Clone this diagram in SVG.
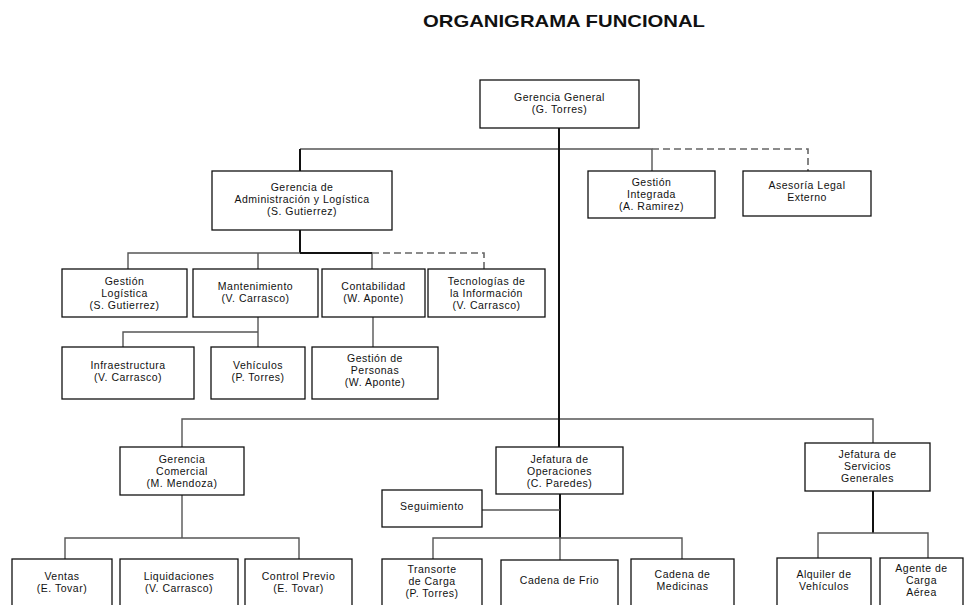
<svg xmlns="http://www.w3.org/2000/svg" width="966" height="605" viewBox="0 0 966 605">
<style>
.title{font-family:"Liberation Sans",Arial,sans-serif;font-weight:bold;font-size:17px;fill:#111}
.box{fill:#fff;stroke:#111;stroke-width:1.3}
.t{font-family:"Liberation Sans",Arial,sans-serif;font-size:10.5px;fill:#111;text-anchor:middle;letter-spacing:0.5px}
.c{fill:none;stroke:#555;stroke-width:1.4}
.trunk{fill:none;stroke:#111;stroke-width:2}
.d{fill:none;stroke:#666;stroke-width:1.6;stroke-dasharray:7,4}
</style>
<rect width="966" height="605" fill="#fff"/>
<text class="title" x="423" y="27" textLength="282" lengthAdjust="spacingAndGlyphs">ORGANIGRAMA FUNCIONAL</text>
<g id="connectors">
<path class="c" d="M300 149H652V171"/>
<path class="d" d="M652 149H808V171"/>
<path class="trunk" d="M300 149V171"/>
<path class="trunk" d="M300 230V253"/>
<path class="c" d="M128 269V253H372V269M258 253V269"/>
<path class="trunk" d="M300 253H372"/>
<path class="d" d="M372 253H484V269"/>
<path class="c" d="M258 317V347M258 332H123V347"/>
<path class="c" d="M373 317V347"/>
<path class="c" d="M182 447V419H873V443"/>
<path class="trunk" d="M559 128V447"/>
<path class="c" d="M182 495V538M65 559V538H299V559"/>
<path class="trunk" d="M560 494V538"/>
<path class="c" d="M482 510H560M560 538V560M433 559V538H682V559"/>
<path class="trunk" d="M873 491V533"/>
<path class="c" d="M818 558V533H928V558"/>
</g>
<g id="gg"><rect class="box" x="480" y="80" width="159" height="48"/><text class="t" x="559.5" y="101">Gerencia General</text><text class="t" x="559.5" y="113">(G. Torres)</text></g>
<g id="gal"><rect class="box" x="212" y="171" width="180" height="59"/><text class="t" x="302" y="191">Gerencia de</text><text class="t" x="302" y="203">Administración y Logística</text><text class="t" x="302" y="215">(S. Gutierrez)</text></g>
<g id="gi"><rect class="box" x="588" y="171" width="127" height="47"/><text class="t" x="651.5" y="186">Gestión</text><text class="t" x="651.5" y="198">Integrada</text><text class="t" x="651.5" y="210">(A. Ramirez)</text></g>
<g id="ale"><rect class="box" x="743" y="171" width="128" height="45"/><text class="t" x="807" y="189">Asesoría Legal</text><text class="t" x="807" y="201">Externo</text></g>
<g id="gl"><rect class="box" x="62" y="269" width="125" height="48"/><text class="t" x="124.5" y="285">Gestión</text><text class="t" x="124.5" y="297">Logística</text><text class="t" x="124.5" y="309">(S. Gutierrez)</text></g>
<g id="mant"><rect class="box" x="193" y="269" width="125" height="48"/><text class="t" x="255.5" y="290">Mantenimiento</text><text class="t" x="255.5" y="302">(V. Carrasco)</text></g>
<g id="cont"><rect class="box" x="322" y="269" width="103" height="48"/><text class="t" x="373.5" y="290">Contabilidad</text><text class="t" x="373.5" y="302">(W. Aponte)</text></g>
<g id="ti"><rect class="box" x="428" y="269" width="117" height="48"/><text class="t" x="486.5" y="285">Tecnologías de</text><text class="t" x="486.5" y="297">la Información</text><text class="t" x="486.5" y="309">(V. Carrasco)</text></g>
<g id="infra"><rect class="box" x="62" y="347" width="132" height="52"/><text class="t" x="128" y="369">Infraestructura</text><text class="t" x="128" y="381">(V. Carrasco)</text></g>
<g id="veh"><rect class="box" x="211" y="347" width="94" height="52"/><text class="t" x="258" y="369">Vehículos</text><text class="t" x="258" y="381">(P. Torres)</text></g>
<g id="gp"><rect class="box" x="312" y="347" width="126" height="52"/><text class="t" x="375" y="362">Gestión de</text><text class="t" x="375" y="374">Personas</text><text class="t" x="375" y="386">(W. Aponte)</text></g>
<g id="gc"><rect class="box" x="120" y="447" width="124" height="48"/><text class="t" x="182" y="463">Gerencia</text><text class="t" x="182" y="475">Comercial</text><text class="t" x="182" y="487">(M. Mendoza)</text></g>
<g id="jo"><rect class="box" x="496" y="447" width="127" height="47"/><text class="t" x="559.5" y="463">Jefatura de</text><text class="t" x="559.5" y="475">Operaciones</text><text class="t" x="559.5" y="487">(C. Paredes)</text></g>
<g id="js"><rect class="box" x="805" y="443" width="125" height="48"/><text class="t" x="867.5" y="458">Jefatura de</text><text class="t" x="867.5" y="470">Servicios</text><text class="t" x="867.5" y="482">Generales</text></g>
<g id="seg"><rect class="box" x="382" y="490" width="100" height="37"/><text class="t" x="432" y="510">Seguimiento</text></g>
<g id="ventas"><rect class="box" x="12" y="559" width="100" height="56"/><text class="t" x="62" y="580">Ventas</text><text class="t" x="62" y="592">(E. Tovar)</text></g>
<g id="liq"><rect class="box" x="120" y="559" width="118" height="56"/><text class="t" x="179" y="580">Liquidaciones</text><text class="t" x="179" y="592">(V. Carrasco)</text></g>
<g id="cp"><rect class="box" x="245" y="559" width="107" height="56"/><text class="t" x="298.5" y="580">Control  Previo</text><text class="t" x="298.5" y="592">(E. Tovar)</text></g>
<g id="tc"><rect class="box" x="382" y="559" width="100" height="56"/><text class="t" x="432" y="573">Transorte</text><text class="t" x="432" y="585">de Carga</text><text class="t" x="432" y="597">(P. Torres)</text></g>
<g id="cf"><rect class="box" x="501" y="560" width="117" height="56"/><text class="t" x="559.5" y="584">Cadena de Frio</text></g>
<g id="cm"><rect class="box" x="631" y="559" width="103" height="56"/><text class="t" x="682.5" y="578">Cadena de</text><text class="t" x="682.5" y="590">Medicinas</text></g>
<g id="av"><rect class="box" x="777" y="558" width="94" height="56"/><text class="t" x="824" y="578">Alquiler de</text><text class="t" x="824" y="590">Vehículos</text></g>
<g id="ac"><rect class="box" x="880" y="558" width="83" height="56"/><text class="t" x="921.5" y="572">Agente de</text><text class="t" x="921.5" y="584">Carga</text><text class="t" x="921.5" y="596">Aérea</text></g>
</svg>
